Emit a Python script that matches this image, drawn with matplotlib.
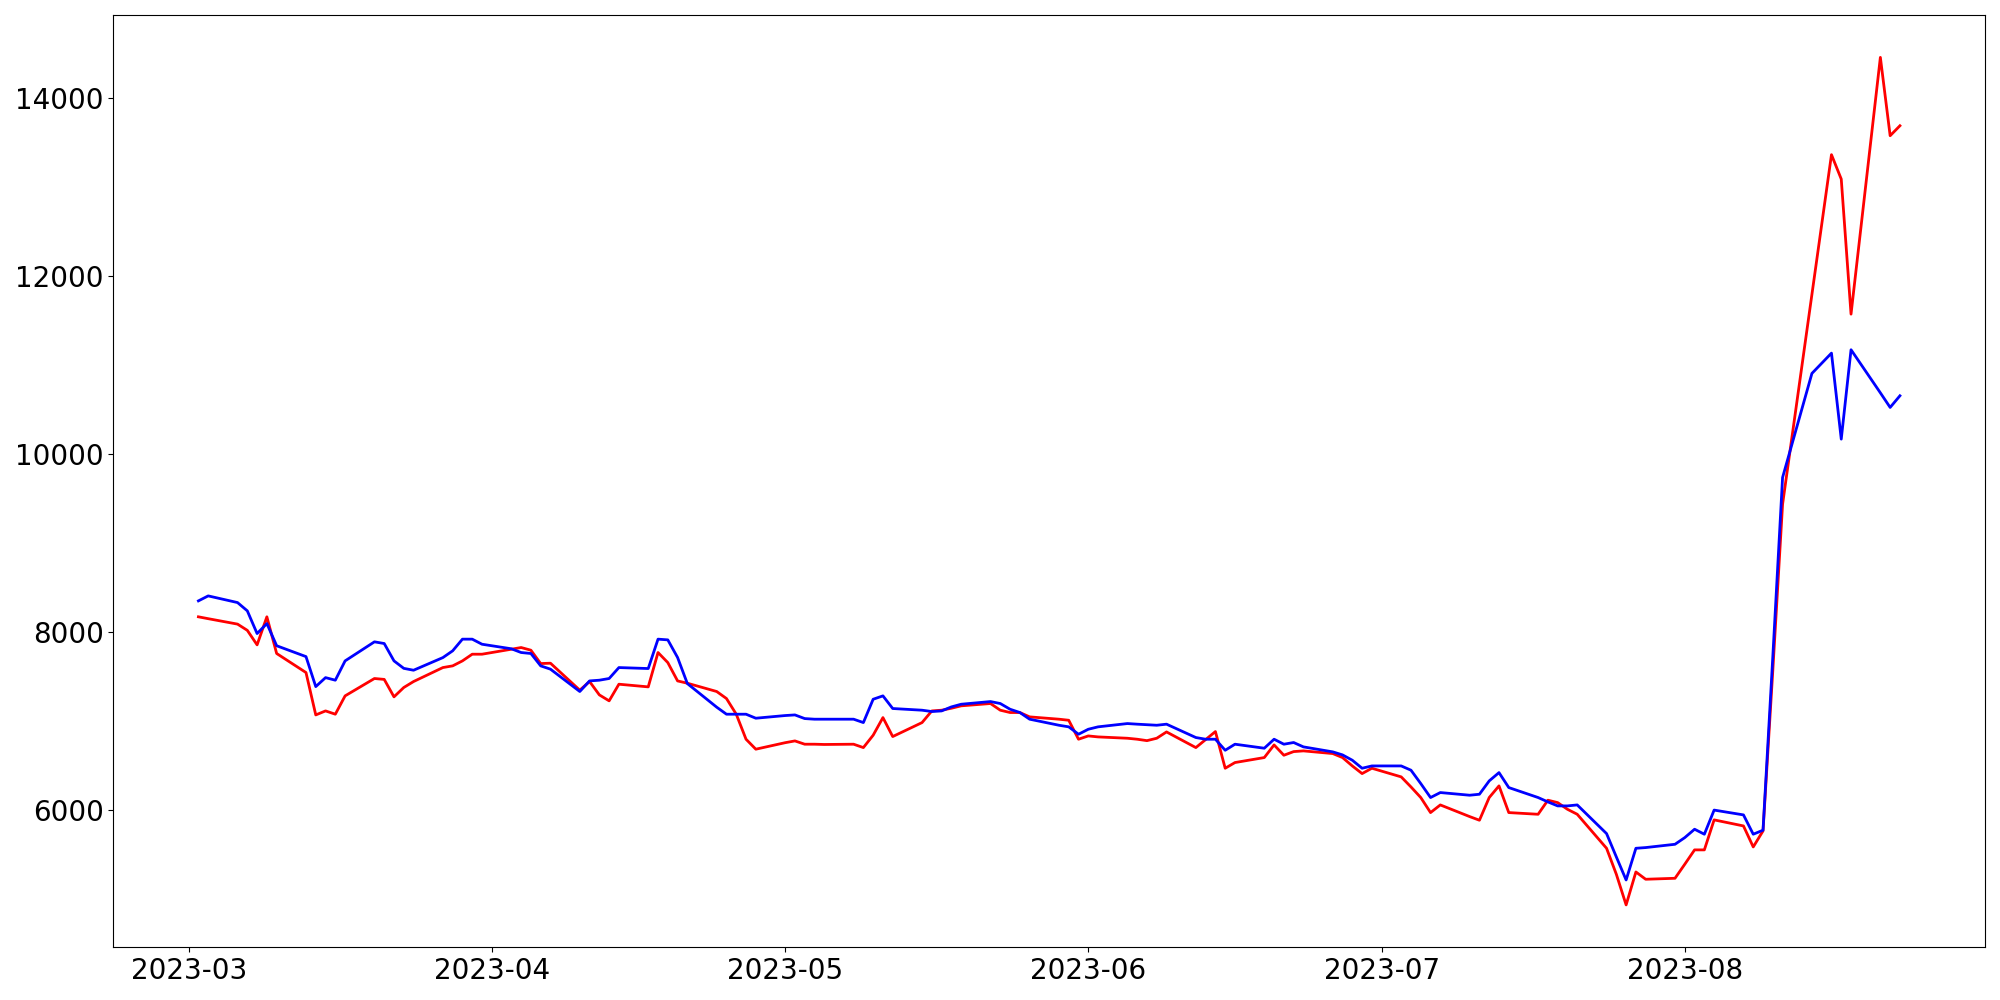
import matplotlib
matplotlib.use("Agg")
import matplotlib.pyplot as plt
import pandas as pd

dates = pd.bdate_range("2023-03-02", "2023-08-23")

red_values = [
    # Mar
    8169, 8148, 8087, 8017, 7854, 8169, 7757, 7543, 7067, 7112, 7075, 7281, 7476, 7466, 7270, 7375, 7442, 7599, 7618, 7674, 7749, 7749,
    # Apr
    7805, 7824, 7794, 7644, 7648, 7345, 7442, 7292, 7225, 7412, 7382, 7768, 7655, 7449, 7423, 7330, 7251, 7075, 6794, 6682,
    # May
    6755, 6775, 6738, 6738, 6735, 6738, 6700, 6839, 7037, 6824, 6981, 7112, 7120, 7142, 7169, 7195, 7120, 7094, 7094, 7045, 7019, 7007, 6794,
    # Jun
    6831, 6820, 6805, 6794, 6778, 6805, 6876, 6700, 6790, 6880, 6468, 6532, 6588, 6730, 6614, 6655, 6663, 6633, 6588, 6494, 6408, 6468,
    # Jul
    6371, 6258, 6139, 5970, 6056, 5925, 5884, 6139, 6270, 5970, 5951, 6109, 6082, 6007, 5951, 5569, 5277, 4933, 5303, 5221, 5232,
    # Aug
    5390, 5551, 5551, 5888, 5820, 5584, 5764, 7566, 9434, 11790, 12575, 13360, 13086, 11569, 14453, 13573, 13685,
]

blue_values = [
    # Mar
    8348, 8404, 8329, 8236, 7981, 8093, 7844, 7722, 7385, 7486, 7457, 7674, 7888, 7869, 7674, 7590, 7569, 7711, 7787, 7918, 7918, 7861,
    # Apr
    7810, 7768, 7757, 7618, 7581, 7330, 7449, 7457, 7476, 7599, 7588, 7918, 7910, 7712, 7419, 7154, 7075, 7075, 7075, 7030,
    # May
    7060, 7067, 7026, 7019, 7019, 7019, 6981, 7243, 7281, 7139, 7120, 7105, 7112, 7157, 7187, 7217, 7195, 7131, 7094, 7019, 6951, 6933, 6850,
    # Jun
    6906, 6933, 6970, 6963, 6957, 6951, 6963, 6813, 6794, 6794, 6670, 6738, 6693, 6794, 6738, 6757, 6708, 6652, 6618, 6558, 6468, 6494,
    # Jul
    6494, 6446, 6296, 6139, 6195, 6165, 6176, 6326, 6419, 6251, 6139, 6090, 6045, 6045, 6056, 5734, 5472, 5213, 5569, 5577, 5614,
    # Aug
    5689, 5783, 5727, 5998, 5944, 5727, 5772, 7719, 9734, 10903, 11017, 11131, 10165, 11169, 10685, 10521, 10652,
]

fig, ax = plt.subplots(figsize=(20, 10), dpi=100)
ax.plot(dates, red_values, color="red", linewidth=2)
ax.plot(dates, blue_values, color="blue", linewidth=2)
ax.tick_params(axis="both", labelsize=20)
fig.tight_layout()
fig.savefig("out.png", dpi=100)
